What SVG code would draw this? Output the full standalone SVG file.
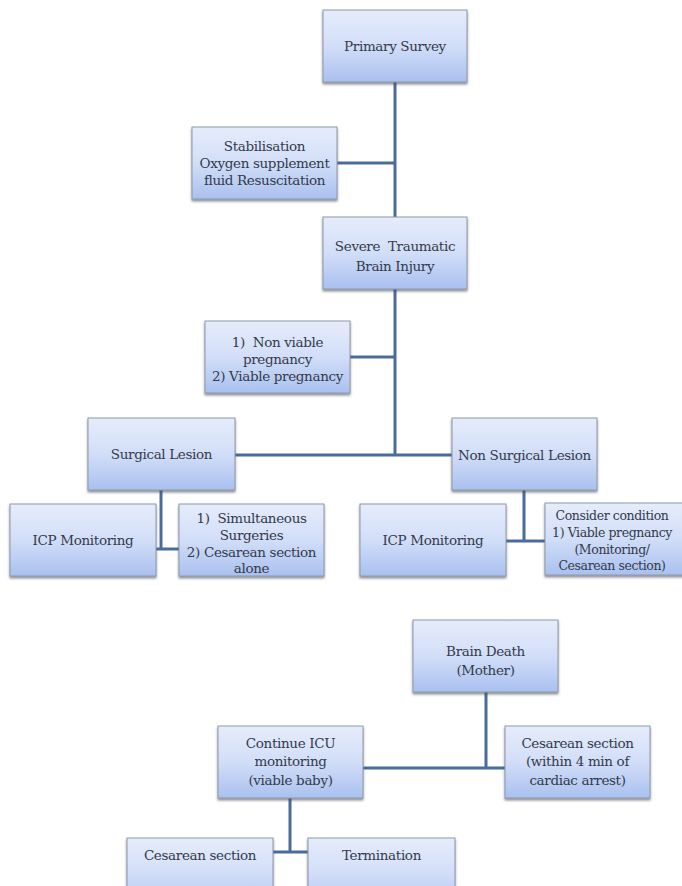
<svg xmlns="http://www.w3.org/2000/svg" width="682" height="886" viewBox="0 0 682 886">
<style>
.box{fill:url(#g);stroke:#8e99ab;stroke-width:1;filter:url(#sh)}
.t{font-family:"DejaVu Serif","Liberation Serif",serif;font-size:13.5px;fill:#333a4a;text-anchor:middle;letter-spacing:-0.35px}
.s{font-size:12.5px;letter-spacing:-0.4px}
.c{stroke:#4a6c9c;stroke-width:3;fill:none}
</style>
<defs>
<linearGradient id="g" x1="0" y1="0" x2="0" y2="1">
<stop offset="0" stop-color="#e6ecfb"/>
<stop offset="0.5" stop-color="#d2def8"/>
<stop offset="1" stop-color="#a9c0ef"/>
</linearGradient>
<filter id="sh" x="-10%" y="-10%" width="120%" height="130%">
<feDropShadow dx="0" dy="2" stdDeviation="1.2" flood-color="#404850" flood-opacity="0.6"/>
</filter>
</defs>
<rect width="682" height="886" fill="#ffffff"/>
<g id="connectors">
<path class="c" d="M395 82V455M337 163H395M350 357H395M235 455H452"/>
<path class="c" d="M161 490V549M156 549H179"/>
<path class="c" d="M524 490V541M506 541H545"/>
<path class="c" d="M486 692V768M363 768H505"/>
<path class="c" d="M290 798V852M273 852H308"/>
</g>
<g id="primary-survey"><rect class="box" x="323" y="10" width="144" height="72"/><text class="t" x="395" y="51">Primary Survey</text></g>
<g id="stabilisation"><rect class="box" x="192" y="127" width="145" height="72"/><text class="t" x="264.5" y="151">Stabilisation</text><text class="t" x="264.5" y="168">Oxygen supplement</text><text class="t" x="264.5" y="185">fluid Resuscitation</text></g>
<g id="severe-tbi"><rect class="box" x="323" y="217" width="144" height="72"/><text class="t" x="395" y="251">Severe&#160; Traumatic</text><text class="t" x="395" y="271">Brain Injury</text></g>
<g id="pregnancy"><rect class="box" x="205" y="321" width="145" height="72"/><text class="t" x="277.5" y="347">1)&#160; Non viable</text><text class="t" x="277.5" y="364">pregnancy</text><text class="t" x="277.5" y="381">2) Viable pregnancy</text></g>
<g id="surgical-lesion"><rect class="box" x="88" y="418" width="147" height="72"/><text class="t" x="161.5" y="459">Surgical Lesion</text></g>
<g id="non-surgical-lesion"><rect class="box" x="452" y="418" width="145" height="72"/><text class="t" x="524.5" y="460">Non Surgical Lesion</text></g>
<g id="icp-left"><rect class="box" x="10" y="504" width="146" height="72"/><text class="t" x="83" y="545">ICP Monitoring</text></g>
<g id="simultaneous"><rect class="box" x="179" y="504" width="145" height="72"/><text class="t" x="251.5" y="523">1)&#160; Simultaneous</text><text class="t" x="251.5" y="540">Surgeries</text><text class="t" x="251.5" y="557">2) Cesarean section</text><text class="t" x="251.5" y="573">alone</text></g>
<g id="icp-right"><rect class="box" x="360" y="504" width="146" height="72"/><text class="t" x="433" y="545">ICP Monitoring</text></g>
<g id="consider"><rect class="box" x="545" y="503" width="145" height="72"/><text class="t s" x="612" y="520">Consider condition</text><text class="t s" x="612" y="537">1) Viable pregnancy</text><text class="t s" x="612" y="554">(Monitoring/</text><text class="t s" x="612" y="570">Cesarean section)</text></g>
<g id="brain-death"><rect class="box" x="413" y="620" width="145" height="72"/><text class="t" x="485.5" y="656">Brain Death</text><text class="t" x="485.5" y="675">(Mother)</text></g>
<g id="continue-icu"><rect class="box" x="218" y="726" width="145" height="72"/><text class="t" x="290.5" y="748">Continue ICU</text><text class="t" x="290.5" y="766">monitoring</text><text class="t" x="290.5" y="785">(viable baby)</text></g>
<g id="cesarean-4min"><rect class="box" x="505" y="726" width="145" height="72"/><text class="t" x="577.5" y="748">Cesarean section</text><text class="t" x="577.5" y="766">(within 4 min of</text><text class="t" x="577.5" y="785">cardiac arrest)</text></g>
<g id="cesarean-section"><rect class="box" x="127" y="838" width="146" height="72"/><text class="t" x="200" y="860">Cesarean section</text></g>
<g id="termination"><rect class="box" x="308" y="838" width="147" height="72"/><text class="t" x="381.5" y="860">Termination</text></g>
</svg>
